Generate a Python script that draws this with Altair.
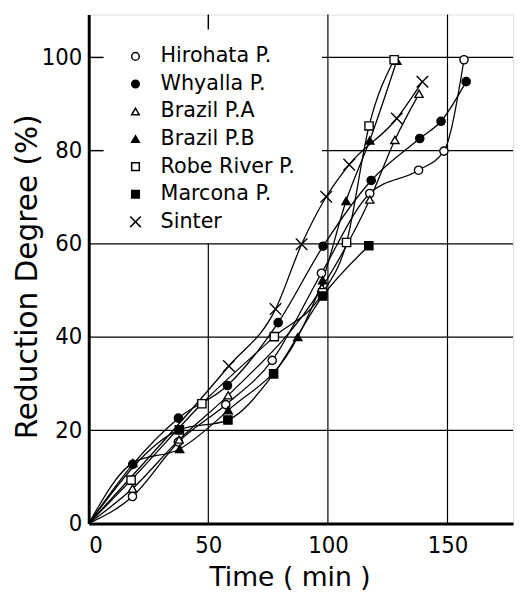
import altair as alt
import pandas as pd

# ---- data ----
series_names = ["Hirohata P.", "Whyalla P.", "Brazil P.A", "Brazil P.B",
                "Robe River P.", "Marcona P.", "Sinter"]

hirohata_t = [0, 18.3, 37.5, 57.3, 76.7, 97.3, 117.5, 137.9, 148.5, 156.9]
hirohata_r = [0, 5.8, 17.5, 25.5, 35.0, 53.7, 70.8, 75.8, 79.9, 99.5]
whyalla_t = [0, 18.4, 37.5, 58.0, 79.2, 98.0, 118.1, 138.4, 147.3, 157.8]
whyalla_r = [0, 12.7, 22.6, 29.6, 43.1, 59.5, 73.6, 82.6, 86.3, 94.8]
brazil_a_t = [0, 18.3, 37.8, 58.3, 97.5, 117.5, 128.0, 138.1]
brazil_a_r = [0, 7.5, 18.0, 27.5, 50.6, 69.5, 82.3, 92.2]
brazil_b_t = [0, 18.4, 38.0, 58.3, 87.4, 97.8, 107.6, 117.5, 128.8]
brazil_b_r = [0, 13.0, 16.0, 24.3, 40.0, 52.2, 69.2, 82.2, 99.3]
robe_t = [0, 17.7, 47.3, 77.6, 97.8, 107.8, 117.2, 127.7]
robe_r = [0, 9.3, 25.7, 40.1, 49.5, 60.3, 85.3, 99.5]
marcona_t = [0, 37.9, 58.2, 77.3, 97.8, 117.1]
marcona_r = [0, 20.1, 22.2, 32.1, 48.8, 59.6]
sinter_t = [0, 58.6, 78.1, 89.0, 99.3, 108.9, 128.8, 139.5]
sinter_r = [0, 33.8, 46.0, 59.9, 70.1, 77.0, 86.9, 94.8]

x_ticks = [0, 50, 100, 150]
y_ticks = [0, 20, 40, 60, 80, 100]
x_domain = [0, 177.4]
y_domain = [0, 109.2]

# partial grid as drawn in the reference
grid_h_y = [20, 40, 60, 80, 100]
grid_h_x0 = [0, 0, 0, 97.5, 97.5]
grid_v_x = [50, 100, 150]
grid_v_y1 = [60, 109.2, 109.2]
tick_left_y = [80, 100]
tick_top_x = [50]

cross_path = "M-1.4,-1.4L1.4,1.4M1.4,-1.4L-1.4,1.4"
shape_range = ["circle", "circle", "triangle-up", "triangle-up", "square", "square", cross_path]
fill_range = ["white", "black", "white", "black", "white", "black", "white"]
stroke_range = ["black"] * 7

all_t = [hirohata_t, whyalla_t, brazil_a_t, brazil_b_t, robe_t, marcona_t, sinter_t]
all_r = [hirohata_r, whyalla_r, brazil_a_r, brazil_b_r, robe_r, marcona_r, sinter_r]

rows = []
for name, ts, rs in zip(series_names, all_t, all_r):
    for i, (t, r) in enumerate(zip(ts, rs)):
        rows.append({"series": name, "t": t, "r": r, "order": i})
df = pd.DataFrame(rows)
pts = df[df["t"] > 0]

gh = pd.DataFrame({"y": grid_h_y, "x0": grid_h_x0, "x1": [x_domain[1]] * len(grid_h_y)})
gv = pd.DataFrame({"x": grid_v_x, "y0": [0] * len(grid_v_x), "y1": grid_v_y1})
tl = pd.DataFrame({"y": tick_left_y, "x0": [0] * 2, "x1": [6.2] * 2})
tt = pd.DataFrame({"x": tick_top_x, "y0": [106.0], "y1": [y_domain[1]]})

xs = alt.Scale(domain=x_domain, nice=False, zero=False)
ys = alt.Scale(domain=y_domain, nice=False, zero=False)

label_font = "DejaVu Sans Condensed, DejaVu Sans, sans-serif"

x_axis = alt.Axis(values=x_ticks, grid=False, ticks=False, domain=True, domainWidth=3,
                  domainColor="black", labelFont=label_font, labelFontSize=24,
                  labelColor="black", labelPadding=10, title="Time ( min )",
                  titleFont="DejaVu Sans", titleFontSize=27, titleFontWeight="normal",
                  titleColor="black", titleX=204, titleY=63, titleBaseline="alphabetic",
                  titleAnchor="middle", titleAlign="center")
y_axis = alt.Axis(values=y_ticks, grid=False, ticks=False, domain=True, domainWidth=3,
                  domainColor="black", labelFont=label_font, labelFontSize=24,
                  labelColor="black", labelPadding=7, title="Reduction Degree (%)",
                  titleFont="DejaVu Sans", titleFontSize=30, titleFontWeight="normal",
                  titleColor="black", titleX=-53, titleY=266, titleAngle=270,
                  titleBaseline="alphabetic", titleAlign="center", titleAnchor="middle")

grid_h = alt.Chart(gh).mark_rule(color="black", strokeWidth=1.2).encode(
    x=alt.X("x0:Q", scale=xs, axis=x_axis), x2="x1:Q",
    y=alt.Y("y:Q", scale=ys, axis=y_axis))
grid_v = alt.Chart(gv).mark_rule(color="black", strokeWidth=1.2).encode(
    x=alt.X("x:Q", scale=xs), y=alt.Y("y0:Q", scale=ys), y2="y1:Q")
ticks_l = alt.Chart(tl).mark_rule(color="black", strokeWidth=1.5).encode(
    x=alt.X("x0:Q", scale=xs), x2="x1:Q", y=alt.Y("y:Q", scale=ys))
ticks_t = alt.Chart(tt).mark_rule(color="black", strokeWidth=1.5).encode(
    x=alt.X("x:Q", scale=xs), y=alt.Y("y0:Q", scale=ys), y2="y1:Q")

lines = alt.Chart(df).mark_line(color="black", strokeWidth=1.3, interpolate="monotone").encode(
    x=alt.X("t:Q", scale=xs), y=alt.Y("r:Q", scale=ys),
    detail="series:N", order="order:Q")

leg = alt.Legend(orient="none", legendX=37, legendY=32, title="",
                 labelFont="DejaVu Sans", labelFontSize=21, labelColor="black",
                 symbolSize=60, symbolStrokeWidth=1.5,
                 labelOffset=15, rowPadding=6, padding=0, labelLimit=300)

points = alt.Chart(pts).mark_point(strokeWidth=1.4, opacity=1, size=70).encode(
    x=alt.X("t:Q", scale=xs), y=alt.Y("r:Q", scale=ys),
    shape=alt.Shape("series:N", scale=alt.Scale(domain=series_names, range=shape_range), legend=leg),
    fill=alt.Fill("series:N", scale=alt.Scale(domain=series_names, range=fill_range), legend=leg),
    stroke=alt.Stroke("series:N", scale=alt.Scale(domain=series_names, range=stroke_range), legend=leg),
)

chart = alt.layer(grid_h, grid_v, ticks_l, ticks_t, lines, points).properties(
    width=431, height=517,
    padding={"left": 82, "top": 2, "right": 2, "bottom": 70},
    autosize=alt.AutoSizeParams(type="none"),
).configure_view(stroke="black", strokeWidth=2).configure(background="white")

chart.save("out.html", embed_options={"renderer": "svg", "actions": False})
